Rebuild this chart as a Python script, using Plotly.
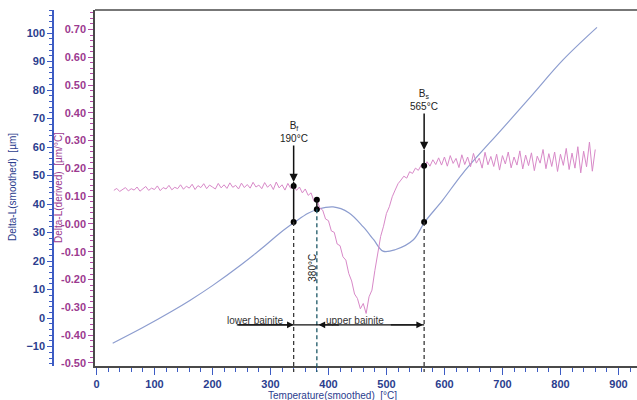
import plotly.graph_objects as go

# ---------------- data ----------------
# Delta-L (smoothed) [µm] vs temperature [°C]
smooth_temp = [28, 80, 130, 161, 200, 250, 290, 316, 342, 365, 382, 408, 435, 460,
               478, 494, 515, 546, 566, 597, 632, 700, 750, 804, 863]
smooth_dl = [-8.8, -3.3, 2.4, 6.2, 11.4, 18.8, 25.3, 29.8, 33.7, 36.8, 38.2, 39.0, 37.0, 32.0,
             27.5, 23.5, 24.0, 27.4, 33.7, 41.4, 50.9, 66.5, 78.0, 90.5, 102.0]

# Delta-L (derived) [µm/°C] vs temperature [°C]
deriv_temp = [30, 35, 40, 45, 50, 55, 60, 65, 70, 75, 80, 85, 90, 95, 100, 105, 110, 115, 120, 125,
              130, 135, 140, 145, 150, 155, 160, 165, 170, 175, 180, 185, 190, 195, 200, 205, 210, 215, 220, 225,
              230, 235, 240, 245, 250, 255, 260, 265, 270, 275, 280, 285, 290, 295, 300, 305, 310, 315, 320, 325,
              330, 335, 340, 345, 350, 355, 360, 365, 370, 375, 380, 385, 390, 395, 400, 405, 410, 415, 420, 425,
              430, 435, 440, 445, 450, 455, 460, 465, 470, 475, 480, 485, 490, 495, 500, 505, 510, 515, 520, 525,
              530, 535, 540, 545, 550, 555, 560, 565, 570, 575, 580, 585, 590, 595, 600, 605, 610, 615, 620, 625,
              630, 635, 640, 645, 650, 655, 660, 665, 670, 675, 680, 685, 690, 695, 700, 705, 710, 715, 720, 725,
              730, 735, 740, 745, 750, 755, 760, 765, 770, 775, 780, 785, 790, 795, 800, 805, 810, 815, 820, 825,
              830, 835, 840, 845, 850, 855, 860]
deriv_dl = [0.121, 0.128, 0.117, 0.125, 0.131, 0.119, 0.127, 0.122, 0.133, 0.118, 0.126, 0.135, 0.121, 0.129, 0.124, 0.137, 0.120, 0.131, 0.126, 0.139,
            0.123, 0.132, 0.127, 0.141, 0.125, 0.136, 0.129, 0.143, 0.124, 0.138, 0.131, 0.145, 0.127, 0.140, 0.133, 0.126, 0.146, 0.130, 0.141, 0.128,
            0.148, 0.132, 0.139, 0.126, 0.147, 0.131, 0.142, 0.129, 0.150, 0.133, 0.140, 0.127, 0.149, 0.132, 0.143, 0.124, 0.151, 0.130, 0.141, 0.122,
            0.146, 0.128, 0.137, 0.121, 0.133, 0.112, 0.126, 0.103, 0.112, 0.082, 0.087, 0.058, 0.050, 0.018, 0.012, -0.025, -0.030, -0.072, -0.078, -0.118,
            -0.130, -0.178, -0.205, -0.252, -0.268, -0.305, -0.286, -0.322, -0.262, -0.238, -0.168, -0.112, -0.045, -0.008, 0.038, 0.062, 0.098, 0.122, 0.145, 0.158,
            0.172, 0.165, 0.188, 0.182, 0.201, 0.193, 0.212, 0.205, 0.224, 0.208, 0.231, 0.214, 0.238, 0.212, 0.241, 0.208, 0.246, 0.218, 0.236, 0.203,
            0.249, 0.214, 0.241, 0.206, 0.254, 0.219, 0.237, 0.201, 0.258, 0.213, 0.243, 0.207, 0.251, 0.194, 0.246, 0.216, 0.259, 0.202, 0.241, 0.212,
            0.263, 0.198, 0.248, 0.210, 0.256, 0.192, 0.244, 0.219, 0.268, 0.199, 0.253, 0.207, 0.259, 0.189, 0.251, 0.211, 0.272, 0.196, 0.255, 0.201,
            0.278, 0.184, 0.262, 0.206, 0.295, 0.190, 0.268]

# Marked points: Bf, 380 °C, Bs
mark_temp = [340, 380, 565]
mark_deriv = [0.137, 0.087, 0.210]
mark_smooth = [33.7, 38.2, 33.7]
arrow_tip_deriv = [0.151, None, 0.266]
arrow_text = ["B<sub>f</sub><br>190°C", None, "B<sub>s</sub><br>565°C"]

# bainite range arrow
range_start_temp = 242
range_level = -0.363
range_labels = ["lower bainite", "upper bainite"]
range_label_temp = [275, 446]

x_ticks = [0, 100, 200, 300, 400, 500, 600, 700, 800, 900]
blue_ticks = [-10, 0, 10, 20, 30, 40, 50, 60, 70, 80, 90, 100]
purple_ticks = [-0.5, -0.4, -0.3, -0.2, -0.1, 0.0, 0.1, 0.2, 0.3, 0.4, 0.5, 0.6, 0.7]
purple_ticktext = ["-0.50", "-0.40", "-0.30", "-0.20", "-0.10", "-0.00",
                   "0.10", "0.20", "0.30", "0.40", "0.50", "0.60", "0.70"]

# ---------------- styling ----------------
X_RANGE = [-2.5, 932]
B_RANGE = [-16.8, 108.1]
P_RANGE = [-0.511, 0.770]

BLUE_TXT = "#2b3d8e"
BLUE_AX = "#3d5cc4"
PURP_TXT = "#9c3a90"
PURP_AX = "#b54aa6"
FRAME = "#4a4a4a"
FONT = "Liberation Sans, Arial, sans-serif"

L, R, T, B = 53, 0, 10, 34
W, H = 637, 400
PW = W - L - R
PH = H - T - B
BOTTOM = H - B


def bpaper(v):
    return (v - B_RANGE[0]) / (B_RANGE[1] - B_RANGE[0])


def ppaper(v):
    return (v - P_RANGE[0]) / (P_RANGE[1] - P_RANGE[0])


fig = go.Figure()

fig.add_trace(go.Scatter(x=smooth_temp, y=smooth_dl, mode="lines", yaxis="y",
                         line=dict(color="#8d9dcf", width=1.2, shape="spline", smoothing=1.0),
                         hoverinfo="skip", showlegend=False))
fig.add_trace(go.Scatter(x=deriv_temp, y=deriv_dl, mode="lines", yaxis="y2",
                         line=dict(color="#d889c8", width=1),
                         hoverinfo="skip", showlegend=False))

shapes = []
annotations = []
for i, t in enumerate(mark_temp):
    top = arrow_tip_deriv[i] if arrow_tip_deriv[i] is not None else mark_deriv[i]
    shapes.append(dict(type="line", xref="x", yref="paper", x0=t, x1=t,
                       y0=ppaper(top), y1=bpaper(mark_smooth[i]),
                       line=dict(color="#111111", width=1.5)))
    dash_col = "#1d5866" if arrow_tip_deriv[i] is None else "#3a3a3a"
    shapes.append(dict(type="line", xref="x", yref="paper", x0=t, x1=t,
                       y0=bpaper(mark_smooth[i]), y1=-6 / PH,
                       line=dict(color=dash_col, width=1.3, dash="4px,3px")))
    if arrow_text[i] is not None:
        annotations.append(dict(x=t, y=ppaper(arrow_tip_deriv[i]), xref="x", yref="paper",
                                text=arrow_text[i], showarrow=True, ax=0, ay=-50,
                                arrowhead=2, arrowsize=1.1, arrowwidth=1.5, arrowcolor="#111111",
                                font=dict(family=FONT, size=10, color="#222222"), align="center"))

# dots
fig.add_trace(go.Scatter(x=mark_temp, y=mark_deriv, mode="markers", yaxis="y2",
                         marker=dict(color="black", size=6), hoverinfo="skip", showlegend=False))
fig.add_trace(go.Scatter(x=mark_temp, y=mark_smooth, mode="markers", yaxis="y",
                         marker=dict(color="black", size=6), hoverinfo="skip", showlegend=False))

# 380 °C label
annotations.append(dict(x=mark_temp[1] - 7, y=ppaper(-0.158), xref="x", yref="paper",
                        text="380°C", textangle=-90, showarrow=False,
                        xanchor="center", yanchor="middle",
                        font=dict(family=FONT, size=10, color="#222222")))

# bainite range line + arrowheads
shapes.append(dict(type="line", xref="x", yref="y2", x0=range_start_temp, x1=mark_temp[2],
                   y0=range_level, y1=range_level,
                   line=dict(color="#111111", width=1.2)))
for tip, tail in [(mark_temp[0], range_start_temp), (mark_temp[1] + 3, mark_temp[1] + 40),
                  (mark_temp[2] - 2, mark_temp[2] - 60)]:
    annotations.append(dict(x=tip, y=range_level, xref="x", yref="y2",
                            ax=tail, ay=range_level, axref="x", ayref="y2",
                            text="", showarrow=True, arrowhead=2, arrowsize=1.1,
                            arrowwidth=1.2, arrowcolor="#111111"))
for lab, t in zip(range_labels, range_label_temp):
    annotations.append(dict(x=t, y=range_level + 0.016, xref="x", yref="y2",
                            text=lab, showarrow=False, xanchor="center", yanchor="middle",
                            font=dict(family=FONT, size=10, color="#333333")))

# top frame line
shapes.append(dict(type="line", xref="paper", yref="paper", x0=(95 - L) / PW, x1=1, y0=1, y1=1,
                   line=dict(color=FRAME, width=1.5)))

# axis titles
annotations.append(dict(x=(12 - L) / PW, y=(BOTTOM - 187) / PH, xref="paper", yref="paper",
                        text="Delta-L(smoothed)  [µm]", textangle=-90, showarrow=False,
                        xanchor="center", yanchor="middle",
                        font=dict(family=FONT, size=10, color=BLUE_TXT)))
annotations.append(dict(x=(58 - L) / PW, y=(BOTTOM - 188) / PH, xref="paper", yref="paper",
                        text="Delta-L(derived)  [µm/°C]", textangle=-90, showarrow=False,
                        xanchor="center", yanchor="middle",
                        font=dict(family=FONT, size=10, color=PURP_TXT)))
annotations.append(dict(x=(332 - L) / PW, y=(BOTTOM - 395) / PH, xref="paper", yref="paper",
                        text="Temperature(smoothed)  [°C]", showarrow=False,
                        xanchor="center", yanchor="middle",
                        font=dict(family=FONT, size=10, color=BLUE_TXT)))

tickfont_b = dict(family=FONT, size=11, color=BLUE_TXT, weight="bold")
tickfont_p = dict(family=FONT, size=11, color=PURP_TXT, weight="bold")

fig.update_layout(
    width=W, height=H,
    margin=dict(l=L, r=R, t=T, b=B),
    paper_bgcolor="white", plot_bgcolor="white",
    showlegend=False,
    xaxis=dict(domain=[(95 - L) / PW, 1], range=X_RANGE, anchor="y2",
               tickmode="array", tickvals=x_ticks, ticks="outside", ticklen=7, tickwidth=1.2,
               tickcolor=BLUE_AX, showline=True, linecolor=FRAME, linewidth=1.5,
               tickfont=tickfont_b, showgrid=False, zeroline=False,
               minor=dict(dtick=20, tick0=0, ticks="outside", ticklen=4, tickcolor=BLUE_AX)),
    yaxis=dict(range=B_RANGE, anchor="free", position=0, side="left",
               tickmode="array", tickvals=blue_ticks, ticks="outside", ticklen=5, tickwidth=1.2,
               tickcolor=BLUE_AX, showline=True, linecolor=BLUE_AX, linewidth=1.5,
               tickfont=tickfont_b, showgrid=False, zeroline=False,
               minor=dict(dtick=2, tick0=0, ticks="outside", ticklen=3, tickcolor=BLUE_AX)),
    yaxis2=dict(range=P_RANGE, anchor="x", overlaying="y", side="left",
                tickmode="array", tickvals=purple_ticks, ticktext=purple_ticktext,
                ticks="outside", ticklen=5, tickwidth=1.2,
                tickcolor=PURP_AX, showline=True, linecolor=FRAME, linewidth=1.5,
                tickfont=tickfont_p, showgrid=False, zeroline=False,
                minor=dict(dtick=0.02, tick0=0, ticks="outside", ticklen=3, tickcolor=PURP_AX)),
    shapes=shapes,
    annotations=annotations,
)

fig.write_html("out.html", config={"displayModeBar": False},
               post_script="document.body.style.margin='0px';")
